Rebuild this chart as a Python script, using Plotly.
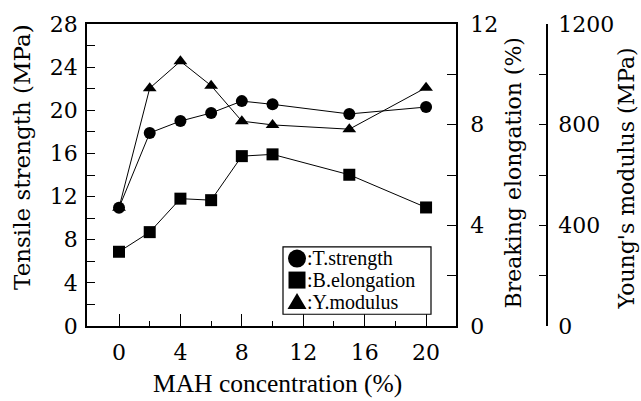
import plotly.graph_objects as go

mah = [0, 2, 4, 6, 8, 10, 15, 20]
tensile = [10.97, 17.9, 19.0, 19.75, 20.85, 20.55, 19.66, 20.3]
elongation = [2.95, 3.73, 5.06, 5.0, 6.75, 6.82, 6.01, 4.71]
modulus = [470, 945, 1052, 955, 814, 799, 782, 947]

x_ticks = [0, 4, 8, 12, 16, 20]
x_minor = [2, 6, 10, 14, 18]
t_ticks = [0, 4, 8, 12, 16, 20, 24, 28]
t_minor = [2, 6, 10, 14, 18, 22, 26]
e_ticks = [0, 4, 8, 12]
e_minor = [2, 6, 10]
m_ticks = [0, 400, 800, 1200]
m_minor = [200, 600, 1000]

legend_names = [":T.strength", ":B.elongation", ":Y.modulus"]

SERIF = "'Liberation Serif', 'Times New Roman', Times, serif"
WIDE = "'DejaVu Serif', 'Liberation Serif', serif"

W, H = 641, 401
L, R, T, B = 87, 94, 17, 75
PW, PH = W - L - R, H - T - B


def px(x):
    return (x - L) / PW


def py(y):
    return (H - B - y) / PH


fig = go.Figure()
line = dict(color="black", width=1)
fig.add_trace(go.Scatter(x=mah, y=modulus, yaxis="y3", mode="lines+markers", name="Y.modulus",
                         line=line, marker=dict(symbol="triangle-up", size=12, color="black"),
                         showlegend=False))
fig.add_trace(go.Scatter(x=mah, y=elongation, yaxis="y2", mode="lines+markers", name="B.elongation",
                         line=line, marker=dict(symbol="square", size=12, color="black"),
                         showlegend=False))
fig.add_trace(go.Scatter(x=mah, y=tensile, yaxis="y", mode="lines+markers", name="T.strength",
                         line=line, marker=dict(symbol="circle", size=12, color="black"),
                         showlegend=False))

tickfont = dict(family=WIDE, size=22, color="black")
common = dict(showgrid=False, zeroline=False, showline=True, linecolor="black", linewidth=1.6,
              tickmode="array", ticks="inside", tickwidth=1, tickcolor="black", tickfont=tickfont)

fig.update_layout(
    width=W, height=H,
    margin=dict(l=L, r=R, t=T, b=B),
    paper_bgcolor="white", plot_bgcolor="white",
    font=dict(family=SERIF, color="black"),
    showlegend=False,
    xaxis=dict(domain=[0, px(456)], range=[-2.085, 21.95], mirror=True,
               tickvals=x_ticks, ticklen=12, ticklabelstandoff=6,
               minor=dict(tickvals=x_minor, ticks="inside", ticklen=5, tickcolor="black"),
               **common),
    yaxis=dict(range=[0, 28], tickvals=t_ticks, ticklen=8, ticklabelstandoff=3,
               minor=dict(tickvals=t_minor, ticks="inside", ticklen=8, tickcolor="black"),
               **common),
    yaxis2=dict(range=[0, 12], overlaying="y", side="right", anchor="x",
                tickvals=e_ticks, ticklen=9, ticklabelstandoff=8,
                minor=dict(tickvals=e_minor, ticks="inside", ticklen=9, tickcolor="black"),
                **common),
    yaxis3=dict(range=[0, 1200], overlaying="y", side="right", anchor="free", position=1.0,
                tickvals=m_ticks, ticklen=7, ticklabelstandoff=6,
                minor=dict(tickvals=m_minor, ticks="inside", ticklen=7, tickcolor="black"),
                **common),
)

# axis titles
titles = [
    ("Tensile strength (MPa)", 22, 153, -90, WIDE, 23),
    ("Breaking elongation (%)", 514, 170, -90, WIDE, 22),
    ("Young's modulus (MPa)", 626, 175, -90, WIDE, 22),
    ("MAH concentration (%)", 277, 385, 0, SERIF, 25.5),
]
for text, x, y, ang, fam, size in titles:
    fig.add_annotation(text=text, x=px(x), y=py(y), xref="paper", yref="paper",
                       xanchor="center", yanchor="middle", textangle=ang, showarrow=False,
                       font=dict(family=fam, size=size, color="black"))

# legend box
fig.add_shape(type="rect", xref="paper", yref="paper", x0=px(283), x1=px(431), y0=py(314), y1=py(245),
              line=dict(color="black", width=1.2), fillcolor="white", layer="above")
rows = [257, 279, 301]
gx = px(297)
fig.add_shape(type="circle", xref="paper", yref="paper", xsizemode="pixel", ysizemode="pixel",
              xanchor=gx, yanchor=py(rows[0]), x0=-9, x1=9, y0=-9, y1=9,
              fillcolor="black", line=dict(color="black", width=0), layer="above")
fig.add_shape(type="rect", xref="paper", yref="paper", xsizemode="pixel", ysizemode="pixel",
              xanchor=gx, yanchor=py(rows[1]), x0=-8.5, x1=8.5, y0=-8.5, y1=8.5,
              fillcolor="black", line=dict(color="black", width=0), layer="above")
fig.add_shape(type="path", xref="paper", yref="paper", xsizemode="pixel", ysizemode="pixel",
              xanchor=gx, yanchor=py(rows[2]), path="M -9.5,-7.5 L 9.5,-7.5 L 0,8.5 Z",
              fillcolor="black", line=dict(color="black", width=0), layer="above")
for name, ry in zip(legend_names, rows):
    fig.add_annotation(text=name, x=px(306), y=py(ry), xref="paper", yref="paper",
                       xanchor="left", yanchor="middle", showarrow=False, borderpad=0,
                       font=dict(family=SERIF, size=20, color="black"))

fig.write_html("out.html")
